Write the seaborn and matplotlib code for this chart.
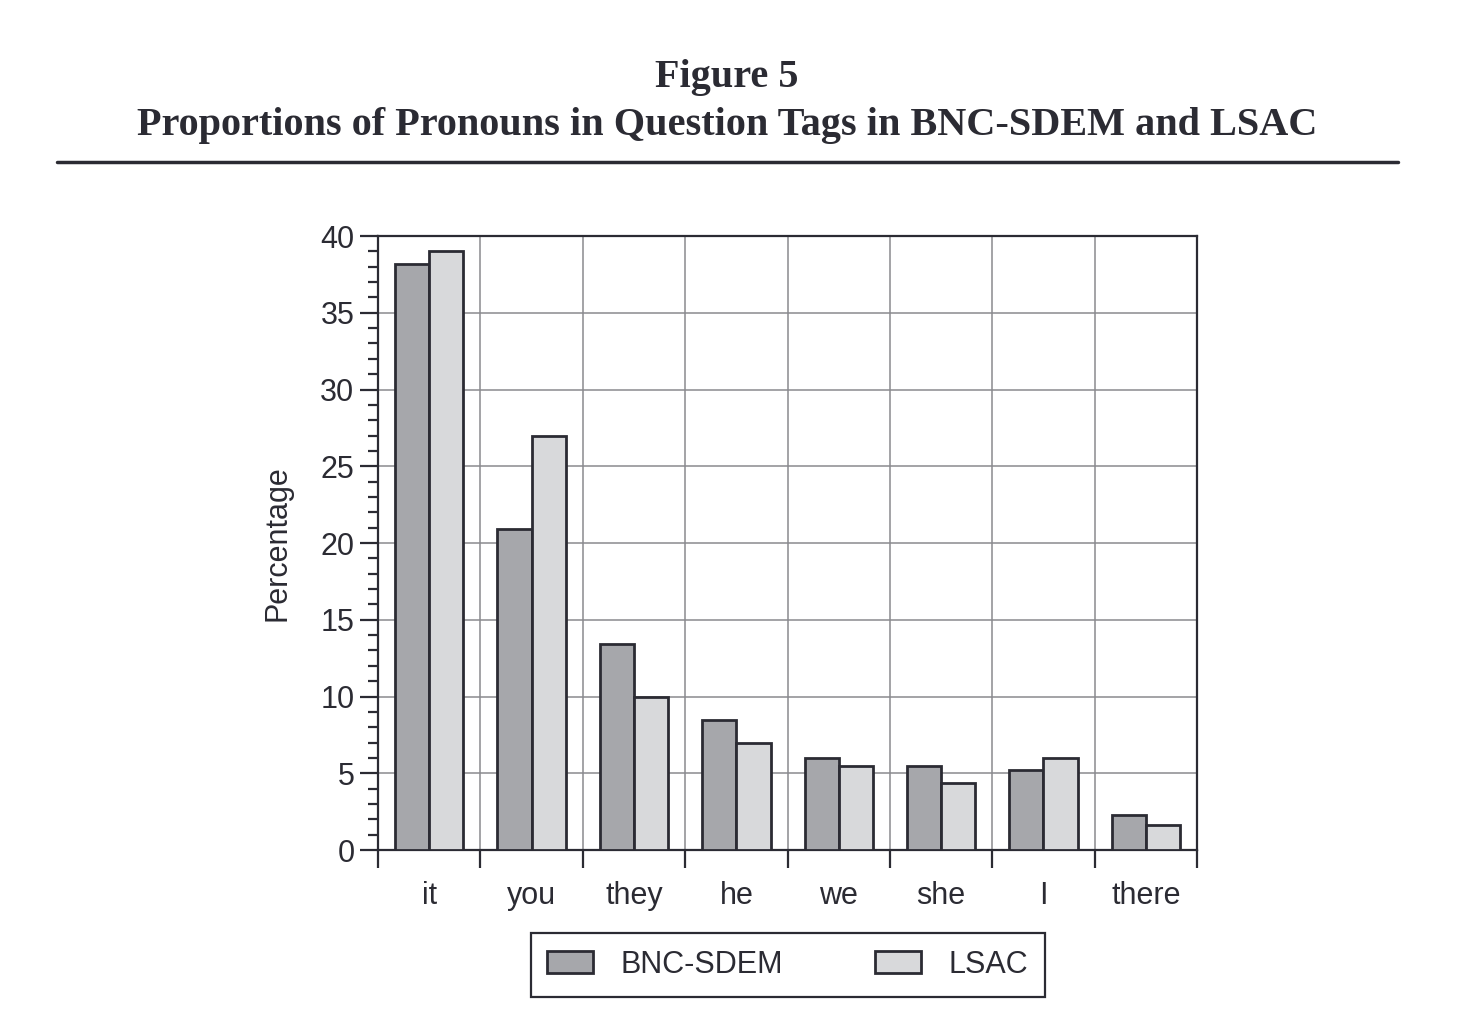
import numpy as np
import pandas as pd
import matplotlib
matplotlib.use("Agg")
import matplotlib.pyplot as plt
from matplotlib.lines import Line2D
from matplotlib.ticker import MultipleLocator, FixedLocator
import seaborn as sns

# ---------------------------------------------------------------------------
# Data
# ---------------------------------------------------------------------------
pronouns = ["it", "you", "they", "he", "we", "she", "I", "there"]
bnc_sdem = [38.2, 20.9, 13.4, 8.5, 6.0, 5.5, 5.2, 2.3]
lsac = [39.0, 27.0, 10.0, 7.0, 5.5, 4.4, 6.0, 1.6]
corpora = ["BNC-SDEM", "LSAC"]

df = pd.DataFrame({
    "pronoun": pronouns * 2,
    "pct": bnc_sdem + lsac,
    "corpus": [corpora[0]] * len(pronouns) + [corpora[1]] * len(pronouns),
})

# ---------------------------------------------------------------------------
# Style
# ---------------------------------------------------------------------------
sns.set_style("ticks")
plt.rcParams["font.family"] = ["Liberation Sans", "DejaVu Sans"]
INK = "#2b2b33"
GRID = "#8a8a8e"
PALETTE = {"BNC-SDEM": "#a6a7ab", "LSAC": "#d8d9db"}
FS = 22

fig = plt.figure(figsize=(14.78, 10.27), dpi=100)
ax = fig.add_axes([0.2558, 0.1723, 0.5541, 0.5979])

sns.barplot(data=df, x="pronoun", y="pct", hue="corpus", order=pronouns,
            hue_order=corpora, palette=PALETTE, width=0.667, edgecolor=INK,
            linewidth=2, saturation=1, errorbar=None, ax=ax, zorder=3)

# ---------------------------------------------------------------------------
# Axes, ticks, grid
# ---------------------------------------------------------------------------
ax.set_ylim(0, 40)
ax.set_xlim(-0.5, len(pronouns) - 0.5)
ax.yaxis.set_major_locator(MultipleLocator(5))
ax.yaxis.set_minor_locator(MultipleLocator(1))
ax.xaxis.set_minor_locator(FixedLocator(np.arange(-0.5, len(pronouns), 1.0)))

ax.tick_params(axis="y", which="major", length=13, width=1.6, color=INK,
               labelsize=FS, labelcolor=INK, pad=4)
ax.tick_params(axis="y", which="minor", length=7, width=1.6, color=INK)
ax.tick_params(axis="x", which="major", length=0, labelsize=FS,
               labelcolor=INK, pad=22)
ax.tick_params(axis="x", which="minor", length=13, width=1.6, color=INK)

ax.grid(False)
ax.yaxis.grid(True, which="major", color=GRID, linewidth=1.1, zorder=0)
ax.xaxis.grid(True, which="minor", color=GRID, linewidth=1.1, zorder=0)
ax.set_axisbelow(True)

for side in ["left", "right", "top", "bottom"]:
    ax.spines[side].set_visible(True)
    ax.spines[side].set_color(INK)
    ax.spines[side].set_linewidth(1.6)

ax.set_xlabel("")
ax.set_ylabel("Percentage", fontsize=FS, color=INK, labelpad=20)

# ---------------------------------------------------------------------------
# Legend
# ---------------------------------------------------------------------------
leg = ax.legend(loc="upper center", bbox_to_anchor=(0.5, -0.135), ncol=2,
                frameon=True, fancybox=False, framealpha=1, fontsize=FS,
                handlelength=1.5, handleheight=0.75, handletextpad=0.9,
                columnspacing=3.0, borderpad=0.55, borderaxespad=0)
leg.get_frame().set_edgecolor(INK)
leg.get_frame().set_linewidth(1.6)
for txt in leg.get_texts():
    txt.set_color(INK)

# ---------------------------------------------------------------------------
# Title block
# ---------------------------------------------------------------------------
fig.text(0.492, 1 - 77 / 1027, "Figure 5", ha="center", va="center",
         fontsize=29, fontweight="bold", color=INK,
         family=["Liberation Serif", "DejaVu Serif"])
fig.text(0.492, 1 - 125 / 1027,
         "Proportions of Pronouns in Question Tags in BNC-SDEM and LSAC",
         ha="center", va="center", fontsize=29, fontweight="bold", color=INK,
         family=["Liberation Serif", "DejaVu Serif"])
fig.add_artist(Line2D([57 / 1478, 1398 / 1478], [1 - 162 / 1027] * 2,
                      transform=fig.transFigure, color=INK, linewidth=2.5))

fig.savefig("out.png", dpi=100)
plt.close(fig)
